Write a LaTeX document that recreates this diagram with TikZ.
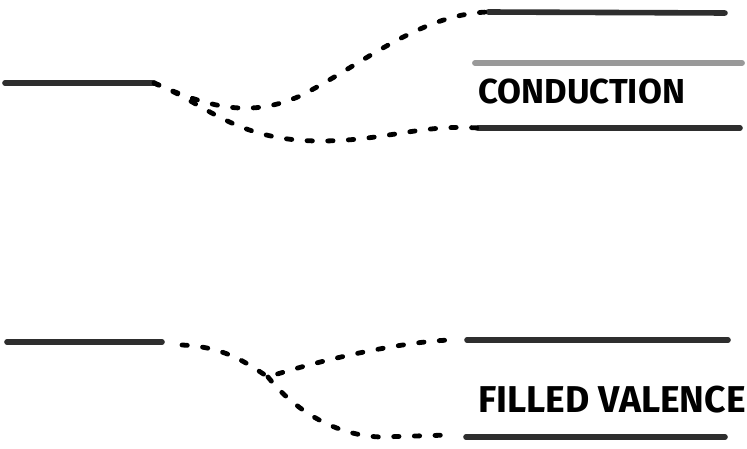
\documentclass[tikz,border=0pt]{standalone}
\usepackage{fontspec}
\newfontfamily\hand{Fira Sans}
\begin{document}
\begin{tikzpicture}[x=0.75pt,y=-0.75pt,
  band/.style={line width=4.2pt,line cap=round,color=black!82},
  faintband/.style={line width=4.4pt,line cap=round,color=black!40},
  dotted curve/.style={line width=3.6pt,line cap=round,dash pattern=on 4pt off 11.5pt,color=black},
  label/.style={font=\hand\bfseries,inner sep=0pt,anchor=base west}]
\useasboundingbox (0,0) rectangle (747,449);
% top section
\coordinate (tl1) at (5,83);
\coordinate (tl2) at (154,83);
\coordinate (tu1) at (488,12);
\coordinate (tu2) at (725,13);
\coordinate (tg1) at (475,63);
\coordinate (tg2) at (742,63);
\coordinate (tc1) at (478,128);
\coordinate (tc2) at (740,128);
\draw[band] (tl1) -- (tl2);
\draw[band] (tu1) -- (tu2);
\draw[faintband] (tg1) -- (tg2);
\draw[band] (tc1) -- (tc2);
\draw[dotted curve] (tl2) .. controls (210,108) and (250,118) .. (300,96) .. controls (360,66) and (420,14) .. (tu1);
\draw[dotted curve] (tl2) .. controls (205,103) and (235,141) .. (320,141) .. controls (385,141) and (420,124) .. (tc1);
\node[label,font=\hand\bfseries\fontsize{26}{28}\selectfont] (cond) at (478,104) {CONDUCTION};
% bottom section
\coordinate (bl1) at (7,342);
\coordinate (bl2) at (162,342);
\coordinate (bu1) at (467,340);
\coordinate (bu2) at (728,340);
\coordinate (bv1) at (466,437);
\coordinate (bv2) at (725,437);
\coordinate (bj) at (268,377);
\draw[band] (bl1) -- (bl2);
\draw[band] (bu1) -- (bu2);
\draw[band] (bv1) -- (bv2);
\draw[dotted curve] (182,345) .. controls (225,347) and (245,362) .. (bj) .. controls (320,360) and (400,342) .. (450,340);
\draw[dotted curve] (bj) .. controls (290,405) and (330,435) .. (380,437) -- (450,435);
\node[label,font=\hand\bfseries\fontsize{28}{30}\selectfont] (valence) at (478,412) {FILLED VALENCE};
\end{tikzpicture}
\end{document}
